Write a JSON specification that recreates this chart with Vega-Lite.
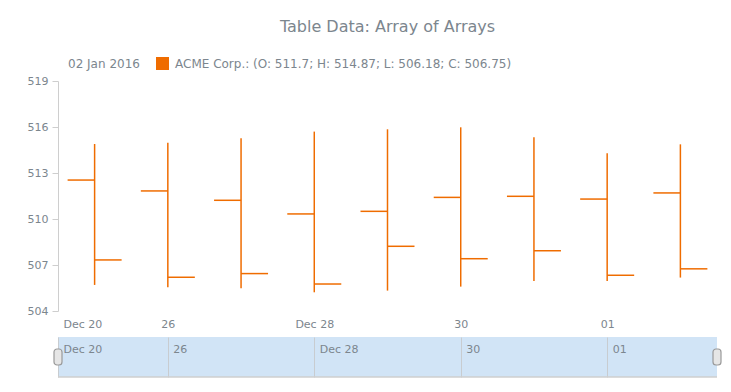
{
  "$schema": "https://vega.github.io/schema/vega-lite/v6.json",
  "background": "white",
  "padding": {"left": 27, "top": 19, "right": 0, "bottom": 0},
  "spacing": 8,
  "config": {
    "font": "DejaVu Sans",
    "view": {"stroke": null},
    "axis": {"labelColor": "#7c868e", "labelFontSize": 11, "title": null, "grid": false}
  },
  "vconcat": [
    {
      "width": 659,
      "height": 230,
      "title": {"text": "Table Data: Array of Arrays", "anchor": "middle", "frame": "group", "fontSize": 16, "fontWeight": "normal", "color": "#7c868e", "offset": 40},
      "data": {"values": [
        {"i": 1, "date": "2015-12-25", "series": "ACME Corp.", "open": 512.54, "high": 514.89, "low": 505.70, "close": 507.33},
        {"i": 2, "date": "2015-12-26", "series": "ACME Corp.", "open": 511.83, "high": 514.98, "low": 505.55, "close": 506.20},
        {"i": 3, "date": "2015-12-27", "series": "ACME Corp.", "open": 511.22, "high": 515.26, "low": 505.48, "close": 506.44},
        {"i": 4, "date": "2015-12-28", "series": "ACME Corp.", "open": 510.33, "high": 515.70, "low": 505.22, "close": 505.76},
        {"i": 5, "date": "2015-12-29", "series": "ACME Corp.", "open": 510.50, "high": 515.85, "low": 505.33, "close": 508.22},
        {"i": 6, "date": "2015-12-30", "series": "ACME Corp.", "open": 511.41, "high": 515.98, "low": 505.59, "close": 507.41},
        {"i": 7, "date": "2015-12-31", "series": "ACME Corp.", "open": 511.48, "high": 515.33, "low": 505.96, "close": 507.93},
        {"i": 8, "date": "2016-01-01", "series": "ACME Corp.", "open": 511.30, "high": 514.28, "low": 505.96, "close": 506.33},
        {"i": 9, "date": "2016-01-02", "series": "ACME Corp.", "open": 511.70, "high": 514.87, "low": 506.18, "close": 506.75}
      ]},
      "encoding": {
        "x": {"field": "i", "type": "quantitative", "scale": {"domain": [0.5, 9.5], "nice": false, "zero": false},
          "axis": {"domain": false, "ticks": false, "labelPadding": 7, "values": [0.5, 2, 4, 6, 8], "labelFlush": true, "labelFlushOffset": -5,
            "labelExpr": "datum.value == 0.5 ? 'Dec 20' : datum.value == 2 ? '26' : datum.value == 4 ? 'Dec 28' : datum.value == 6 ? '30' : '01'"}},
        "color": {"field": "series", "type": "nominal", "scale": {"range": ["#ef6c00"]},
          "legend": {"orient": "none", "legendX": 10, "legendY": -24, "direction": "horizontal", "title": "02 Jan 2016", "titleOrient": "left", "titleFontSize": 12, "titleFontWeight": "normal", "titleColor": "#7c868e", "titlePadding": 16, "titleBaseline": "middle", "symbolType": "square", "symbolSize": 169, "symbolFillColor": "#ef6c00", "symbolStrokeWidth": 0, "symbolOpacity": 1, "labelFontSize": 12, "labelColor": "#7c868e", "labelOffset": 6, "labelLimit": 0, "padding": 0,
            "labelExpr": "datum.label + ': (O: 511.7; H: 514.87; L: 506.18; C: 506.75)'"}}
      },
      "layer": [
        {"mark": {"type": "rule", "strokeWidth": 1.5},
          "encoding": {
            "y": {"field": "low", "type": "quantitative", "scale": {"domain": [504, 519], "nice": false, "zero": false},
              "axis": {"values": [504, 507, 510, 513, 516, 519], "domainColor": "#cecece", "tickColor": "#cecece", "tickSize": 6, "labelPadding": 4}},
            "y2": {"field": "high"}
          }},
        {"mark": {"type": "rule", "strokeWidth": 1.5, "xOffset": -27},
          "encoding": {"x2": {"field": "i"}, "y": {"field": "open", "type": "quantitative"}}},
        {"mark": {"type": "rule", "strokeWidth": 1.5, "x2Offset": 27},
          "encoding": {"x2": {"field": "i"}, "y": {"field": "close", "type": "quantitative"}}}
      ]
    },
    {
      "width": 659,
      "height": 40,
      "view": {"fill": "#d1e4f6", "stroke": null},
      "data": {"values": [{"pos": 0.5}, {"pos": 9.5}]},
      "layer": [
        {"mark": {"type": "rule", "color": "#cfcfcf", "strokeWidth": 1},
          "encoding": {
            "x": {"datum": 0.5, "type": "quantitative", "scale": {"domain": [0.5, 9.5], "nice": false, "zero": false},
              "axis": {"orient": "bottom", "offset": -40, "domain": false, "ticks": false, "tickSize": 0, "grid": true, "gridColor": "#c8ccd0", "values": [0.5, 2, 4, 6, 8], "labelAlign": "left", "labelBaseline": "top", "labelPadding": 6, "labelOffset": 5, "labelFlush": false,
                "labelExpr": "datum.value == 0.5 ? 'Dec 20' : datum.value == 2 ? '26' : datum.value == 4 ? 'Dec 28' : datum.value == 6 ? '30' : '01'"}},
            "x2": {"datum": 9.5},
            "y": {"datum": 0, "type": "quantitative", "scale": {"domain": [0, 1], "nice": false}, "axis": null}
          }},
        {"mark": {"type": "tick", "orient": "vertical", "size": 16, "thickness": 8, "cornerRadius": 3, "fill": "#e6e6e6", "stroke": "#9a9a9a", "strokeWidth": 1.2, "opacity": 1},
          "encoding": {
            "x": {"field": "pos", "type": "quantitative"},
            "y": {"datum": 0.5, "type": "quantitative"}
          }}
      ]
    }
  ]
}
